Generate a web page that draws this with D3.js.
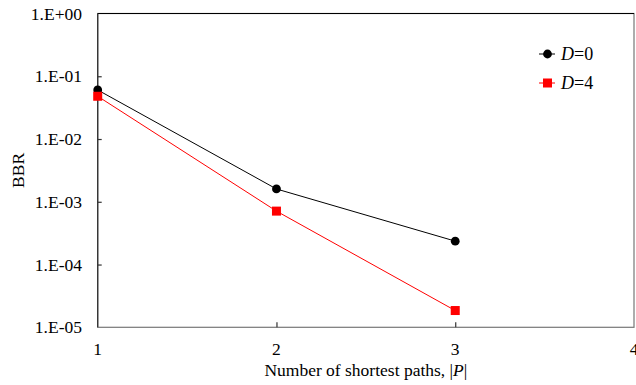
<!DOCTYPE html>
<html>
<head>
<meta charset="utf-8">
<script src="https://cdn.jsdelivr.net/npm/d3@7"></script>
<style>
  html, body { margin: 0; padding: 0; background: #fff; }
  svg { display: block; }
  text { font-family: "Liberation Serif", "Times New Roman", serif; fill: #000; }
</style>
</head>
<body>
<svg id="chart" width="636" height="385"></svg>
<script>
// Number of shortest paths |P|
const pathCounts = [1, 2, 3];
// BBR for each setting of D
const bbrD0 = [0.0605, 1.6e-3, 2.36e-4];
const bbrD4 = [0.048, 7.1e-4, 1.85e-5];
const xTicks = [1, 2, 3, 4];
const yTicks = [1e0, 1e-1, 1e-2, 1e-3, 1e-4, 1e-5];
const yTickLabels = ["1.E+00", "1.E-01", "1.E-02", "1.E-03", "1.E-04", "1.E-05"];

const series = [
  { name: "0", values: bbrD0, color: "#000000", shape: "circle" },
  { name: "4", values: bbrD4, color: "#ff0000", shape: "square" }
];

const svg = d3.select("#chart");
const m = { left: 97.7, right: 634, top: 13.5, bottom: 327.3 };
const fs = 17.5;

const x = d3.scaleLinear().domain([1, 4]).range([m.left, m.right]);
const y = d3.scaleLog().domain([1e-5, 1]).range([m.bottom, m.top]);

// plot frame
svg.append("rect")
  .attr("x", m.left).attr("y", m.top)
  .attr("width", m.right - m.left).attr("height", m.bottom - m.top)
  .attr("fill", "none").attr("stroke", "#777").attr("stroke-width", 1.2);
svg.append("line")
  .attr("x1", m.left).attr("x2", m.right).attr("y1", m.top).attr("y2", m.top)
  .attr("stroke", "#000").attr("stroke-width", 1.2);
svg.append("line")
  .attr("x1", m.left).attr("x2", m.left).attr("y1", m.top).attr("y2", m.bottom)
  .attr("stroke", "#333").attr("stroke-width", 1.3);

// y axis: inward ticks
const yAxis = svg.append("g").attr("transform", `translate(${m.left},0)`)
  .call(d3.axisRight(y).tickValues(yTicks.slice(1, -1)).tickSize(4).tickFormat(""));
yAxis.select(".domain").remove();
yAxis.selectAll("line").attr("stroke", "#333").attr("stroke-width", 1.2);
svg.append("g").selectAll("text").data(yTicks).join("text")
  .attr("x", 82).attr("y", d => y(d)).attr("dy", "0.35em")
  .attr("text-anchor", "end").attr("font-size", fs)
  .text((d, i) => yTickLabels[i]);

// x axis: inward ticks
const xAxis = svg.append("g").attr("transform", `translate(0,${m.bottom})`)
  .call(d3.axisTop(x).tickValues(xTicks.slice(1, -1)).tickSize(5).tickFormat(""));
xAxis.select(".domain").remove();
xAxis.selectAll("line").attr("stroke", "#333").attr("stroke-width", 1.2);
svg.append("g").selectAll("text").data(xTicks).join("text")
  .attr("x", d => x(d)).attr("y", 355)
  .attr("text-anchor", "middle").attr("font-size", fs)
  .text(d => d);

// axis titles
const xTitle = svg.append("text")
  .attr("x", (m.left + m.right) / 2).attr("y", 376)
  .attr("text-anchor", "middle").attr("font-size", fs);
xTitle.append("tspan").text("Number of shortest paths, |");
xTitle.append("tspan").attr("font-style", "italic").text("P");
xTitle.append("tspan").text("|");

svg.append("text")
  .attr("transform", `translate(24,${(m.top + m.bottom) / 2}) rotate(-90)`)
  .attr("text-anchor", "middle").attr("font-size", fs)
  .text("BBR");

// series lines and markers
const line = d3.line().x((d, i) => x(pathCounts[i])).y(d => y(d));
function marker(g, shape, color, cx, cy) {
  if (shape === "circle") {
    g.append("circle").attr("cx", cx).attr("cy", cy).attr("r", 4.4).attr("fill", color);
  } else {
    g.append("rect").attr("x", cx - 4.5).attr("y", cy - 4.5)
      .attr("width", 9).attr("height", 9).attr("fill", color);
  }
}
series.forEach(s => {
  const g = svg.append("g");
  g.append("path").datum(s.values).attr("d", line)
    .attr("fill", "none").attr("stroke", s.color).attr("stroke-width", 1);
  s.values.forEach((v, i) => marker(g, s.shape, s.color, x(pathCounts[i]), y(v)));
});

// legend
series.forEach((s, i) => {
  const ly = 54 + i * 29;
  const g = svg.append("g");
  g.append("line").attr("x1", 539).attr("x2", 555).attr("y1", ly).attr("y2", ly)
    .attr("stroke", s.color).attr("stroke-width", 1);
  marker(g, s.shape, s.color, 547.5, ly);
  const t = g.append("text").attr("x", 561).attr("y", ly).attr("dy", "0.35em")
    .attr("font-size", 18);
  t.append("tspan").attr("font-style", "italic").text("D");
  t.append("tspan").text("=" + s.name);
});
</script>
</body>
</html>
